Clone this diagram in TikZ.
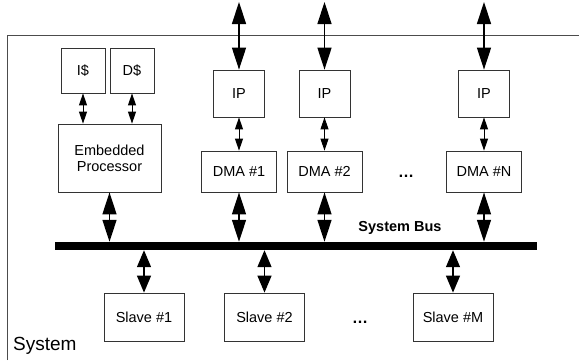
\documentclass[tikz,border=0pt]{standalone}
\usepackage{fontspec}
\setmainfont{Liberation Sans}
\usepackage{tikz}
\usetikzlibrary{arrows.meta}
\tikzset{unit/.style={draw=black!80, line width=0.8pt, inner sep=0pt, font=\fontsize{14.5}{16}\selectfont, align=center}}
\tikzset{bigarrow/.style={line width=1.4pt, {Triangle[length=22pt,width=14pt]}-{Triangle[length=22pt,width=14pt]}}}
\tikzset{busarrow/.style={line width=1.4pt, {Triangle[length=17pt,width=14pt]}-{Triangle[length=17pt,width=14pt]}}}
\tikzset{smallarrow/.style={line width=1pt, {Triangle[length=12pt,width=8pt]}-{Triangle[length=12pt,width=8pt]}}}
\tikzset{gap/.style={font=\bfseries\fontsize{16}{18}\selectfont, inner sep=0pt}}

\begin{document}
\begin{tikzpicture}[x=1pt, y=-1pt]
\useasboundingbox (0,0) rectangle (579,360);

% System frame
\draw[black!70, line width=1pt] (7,360) |- (579,35);
\node[anchor=base west, font=\fontsize{19}{21}\selectfont, inner sep=0pt] (sys) at (13,350) {System};

% Processor and caches
\node[unit, minimum width=44pt, minimum height=45pt] (icache) at (83,70.5) {I\$};
\node[unit, minimum width=44pt, minimum height=45pt] (dcache) at (132,70.5) {D\$};
\node[unit, minimum width=103pt, minimum height=68pt] (cpu) at (109.5,158) {Embedded\\Processor};
\draw[smallarrow] (icache.south) -- (icache.south |- cpu.north);
\draw[smallarrow] (dcache.south) -- (dcache.south |- cpu.north);

% IP blocks with their DMA engines
\foreach \n/\x/\lbl in {1/239/\#1, 2/324.5/\#2, 3/484/\#N} {
	\node[unit, minimum width=51pt, minimum height=47pt] (ip\n) at (\x,93.5) {IP};
	\node[unit, minimum width=75pt, minimum height=41pt] (dma\n) at (\x,171.5) {DMA \lbl};
	\coordinate (ext\n) at (\x,2);
	\draw[bigarrow] (ext\n) -- (ip\n.north);
	\draw[smallarrow] (ip\n.south) -- (dma\n.north);
}
\node[gap, anchor=base] (dmadots) at (406,177) {\dots};

% Bus
\node[fill=black, minimum width=482pt, minimum height=8pt, inner sep=0pt] (bus) at (296,246) {};
\node[font=\bfseries\fontsize{14.5}{16}\selectfont] (buslabel) at (400,228) {System Bus};
\draw[bigarrow] (cpu.south) -- (cpu.south |- bus.north);
\foreach \n in {1,2,3}
	\draw[bigarrow] (dma\n.south) -- (dma\n.south |- bus.north);

% Slaves
\foreach \n/\x/\lbl in {1/144/\#1, 2/264.5/\#2, M/453/\#M} {
	\node[unit, minimum width=80pt, minimum height=48pt] (slave\n) at (\x,317) {Slave \lbl};
	\draw[busarrow] (slave\n.north |- bus.south) -- (slave\n.north);
}
\node[gap, anchor=base] (slavedots) at (360,323) {\dots};

\end{tikzpicture}
\end{document}
